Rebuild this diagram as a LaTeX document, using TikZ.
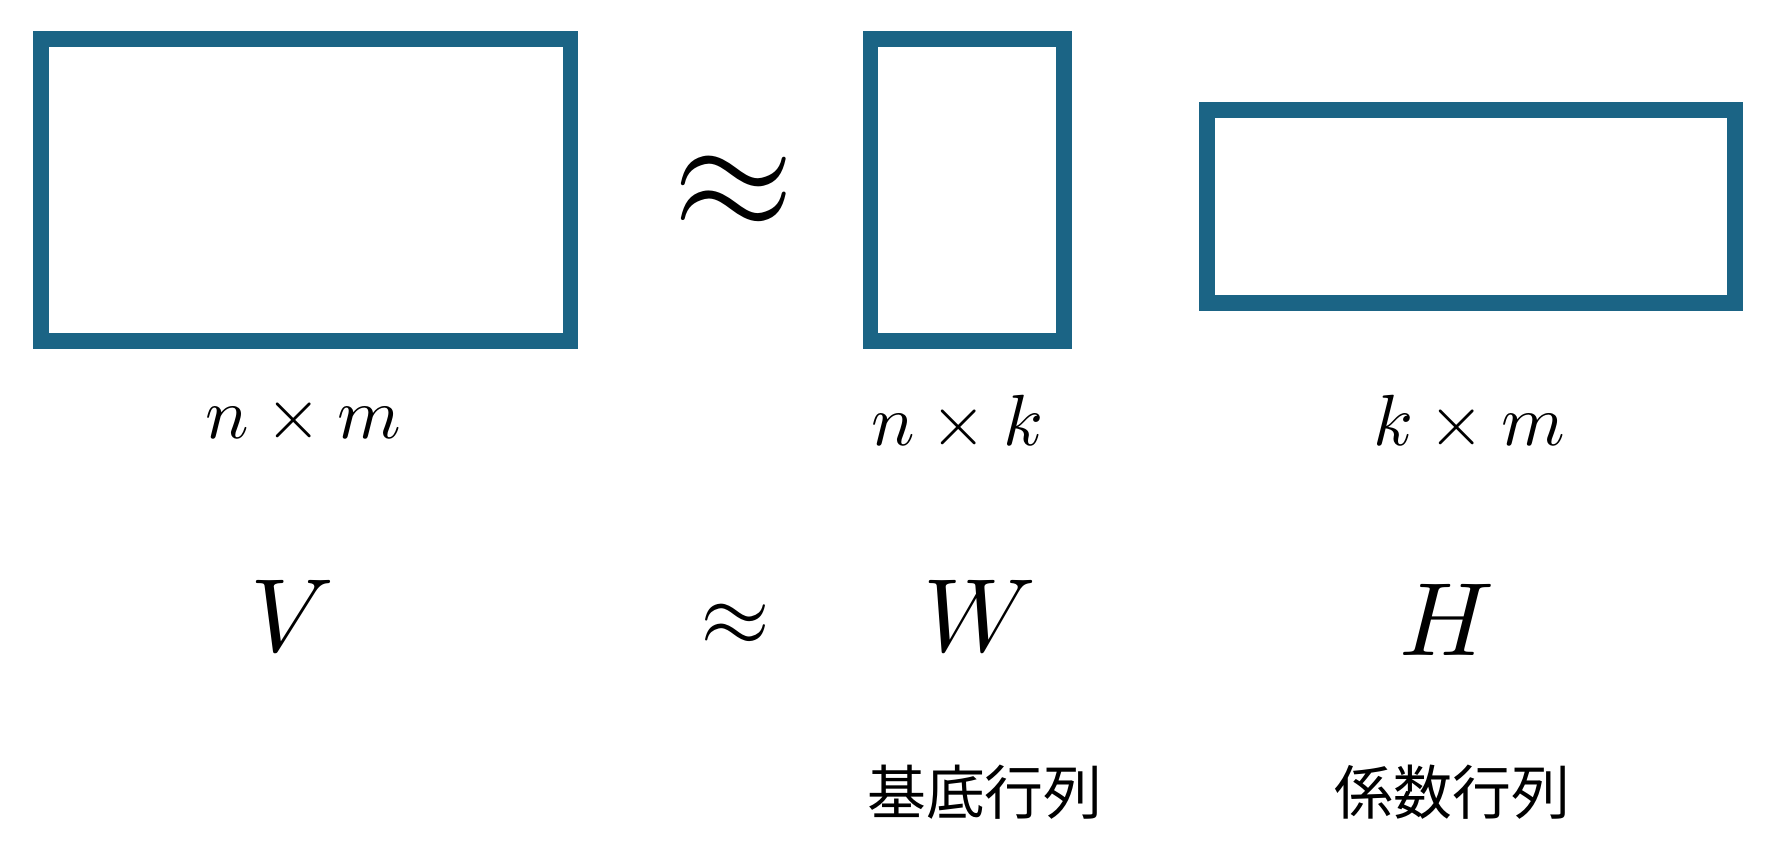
\documentclass[tikz,border=0pt]{standalone}
\usepackage{fontspec}
\usepackage{unicode-math}
\setmathfont{Latin Modern Math}
\newfontfamily\cjk{Noto Sans CJK JP}
\usetikzlibrary{positioning}
\definecolor{matblue}{HTML}{1B6485}
\tikzset{
	matbox/.style={draw=matblue, line width=7pt, inner sep=0pt},
	dimlabel/.style={font=\fontsize{32}{34}\selectfont},
	symlabel/.style={font=\fontsize{46}{50}\selectfont},
	jplabel/.style={font=\fontsize{26}{28}\selectfont\cjk}
}
\begin{document}
\begin{tikzpicture}[x=0.5pt, y=0.5pt]
	\useasboundingbox (0,0) rectangle (1568,-747);
	% matrices
	\node[matbox, minimum width=468pt*0.5, minimum height=267pt*0.5] (V) at (270,-168) {};
	\node[matbox, minimum width=171pt*0.5, minimum height=267pt*0.5] (W) at (854.5,-168) {};
	\node[matbox, minimum width=467pt*0.5, minimum height=171pt*0.5] (H) at (1299.5,-182.5) {};
	\node[font=\fontsize{70}{76}\selectfont] (approx) at (648,-170) {$\approx$};
	% sizes
	\node[dimlabel] (Vdim) at (268,-372) {$n\times m$};
	\node[dimlabel] (Wdim) at (845,-372) {$n\times k$};
	\node[dimlabel] (Hdim) at (1298,-372) {$k\times m$};
	% symbols
	\node[symlabel] (Vsym) at (258,-545) {$V$};
	\node[font=\fontsize{40}{44}\selectfont] (approxsym) at (650,-552) {$\approx$};
	\node[symlabel] (Wsym) at (865,-545) {$W$};
	\node[symlabel] (Hsym) at (1278,-548) {$H$};
	% names
	\node[jplabel] (Wname) at (870,-700) {基底行列};
	\node[jplabel] (Hname) at (1283,-700) {係数行列};
\end{tikzpicture}
\end{document}
